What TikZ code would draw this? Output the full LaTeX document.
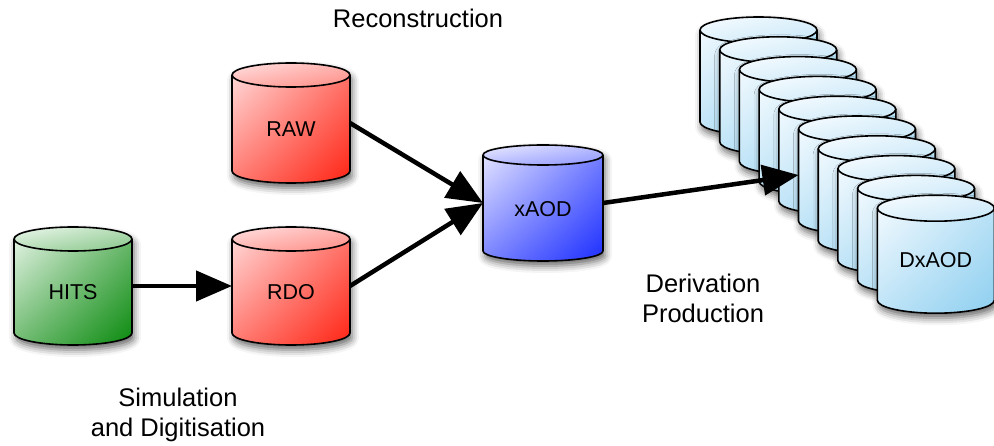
\documentclass[tikz,border=0pt]{standalone}
\usepackage{fontspec}
\setmainfont{Liberation Sans}
\usetikzlibrary{arrows.meta,shadings,shadows.blur}

\definecolor{hitsLight}{HTML}{EEF8EE}
\definecolor{hitsDark}{HTML}{0A8A0E}
\definecolor{redLight}{HTML}{FFE2E2}
\definecolor{redDark}{HTML}{FF2414}
\definecolor{blueLight}{HTML}{ECECFF}
\definecolor{blueDark}{HTML}{1C2EFF}
\definecolor{skyLight}{HTML}{F8FCFF}
\definecolor{skyDark}{HTML}{8ECFF0}

\tikzset{
  outline/.style={line width=1.6pt, line join=round},
  flow/.style={draw=black, fill=black, draw opacity=1, fill opacity=1,
    line width=4.5pt, -{Triangle[length=36pt,width=30pt,fill=black]}},
  caption/.style={font=\fontsize{25.5}{30}\selectfont, align=center, inner sep=0pt},
  dblabel/.style={font=\fontsize{21.5}{25}\selectfont, inner sep=0pt},
  anchorbox/.style={inner sep=0pt, outer sep=0pt},
  softshadow/.style={blur shadow={shadow xshift=2pt, shadow yshift=-5pt,
      shadow blur radius=7pt, shadow opacity=60}},
}

% database cylinder:
% #1 name, #2 left, #3 top, #4 width, #5 height, #6 lid radius,
% #7 light colour, #8 dark colour, #9 label
\newcommand\dbcyl[9]{%
  \pgfmathsetmacro\cL{#2}%
  \pgfmathsetmacro\cR{(#2)+(#4)}%
  \pgfmathsetmacro\cM{(#2)+(#4)/2}%
  \pgfmathsetmacro\cRx{(#4)/2}%
  \pgfmathsetmacro\cT{445-(#3)-(#6)}%
  \pgfmathsetmacro\cB{445-(#3)-(#5)+(#6)}%
  \pgfmathsetmacro\cC{445-(#3)-(#5)/2}%
  \fill[white, softshadow] (\cL,\cT) -- (\cL,\cB)
    arc[start angle=180, end angle=360, x radius=\cRx, y radius=#6]
    -- (\cR,\cT) arc[start angle=0, end angle=180, x radius=\cRx, y radius=#6] -- cycle;
  \shade[upper left=#7, lower right=#8, upper right=#7!45!#8, lower left=#7!45!#8]
    (\cL,\cT) -- (\cL,\cB)
    arc[start angle=180, end angle=360, x radius=\cRx, y radius=#6]
    -- (\cR,\cT) arc[start angle=0, end angle=180, x radius=\cRx, y radius=#6] -- cycle;
  \shade[upper left=#7, lower right=#7!55!#8, upper right=#7!75!#8, lower left=#7!75!#8]
    (\cM,\cT) ellipse[x radius=\cRx, y radius=#6];
  \draw[outline] (\cL,\cT) -- (\cL,\cB)
    arc[start angle=180, end angle=360, x radius=\cRx, y radius=#6] -- (\cR,\cT);
  \draw[outline] (\cM,\cT) ellipse[x radius=\cRx, y radius=#6];
  \node[anchorbox, minimum width=#4pt, minimum height=#5pt] (#1) at (\cM,\cC) {};
  \node[dblabel] (#1-text) at ([yshift=-6pt]#1.center) {#9};
}

\begin{document}
\begin{tikzpicture}[x=1pt, y=1pt]
  \useasboundingbox (0,0) rectangle (994,445);

  % input databases
  \dbcyl{hits}{14}{227}{118}{118}{12}{hitsLight}{hitsDark}{HITS}
  \dbcyl{raw}{232}{63}{118}{120}{12}{redLight}{redDark}{RAW}
  \dbcyl{rdo}{232}{227}{118}{118}{12}{redLight}{redDark}{RDO}
  \dbcyl{xaod}{483}{145}{120}{116}{10}{blueLight}{blueDark}{xAOD}

  % stack of derived datasets, drawn back to front
  \foreach \i in {0,...,8} {
    \dbcyl{dx\i}{700+19.7*\i}{17+19.8*\i}{117}{118}{13}{skyLight}{skyDark}{}
  }
  \dbcyl{dx9}{877.3}{195.2}{117}{118}{13}{skyLight}{skyDark}{DxAOD}

  % processing steps
  \draw[flow] (hits.east) -- (rdo.west);
  \draw[flow] (raw.east) -- (xaod.west);
  \draw[flow] (rdo.east) -- (xaod.west);
  \draw[flow] (xaod.east) -- (dx5.west);

  % captions
  \node[caption] (reco) at (418,427) {Reconstruction};
  \node[caption] (simdigi) at (178,30) {Simulation\\and Digitisation};
  \node[caption] (deriv) at (703,147) {Derivation\\Production};
\end{tikzpicture}
\end{document}
